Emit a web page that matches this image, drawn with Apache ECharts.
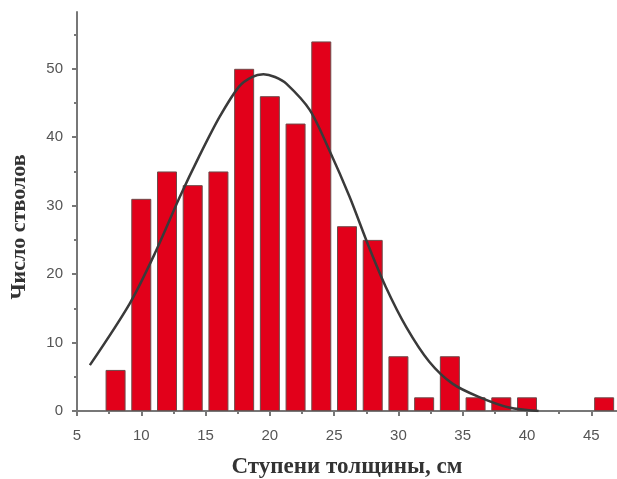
<!DOCTYPE html>
<html><head><meta charset="utf-8">
<script src="https://cdn.jsdelivr.net/npm/echarts@6/dist/echarts.min.js"></script>
<style>html,body{margin:0;padding:0;background:#fff}#c{width:617px;height:479px}</style>
</head><body><div id="c"></div>
<script>
// Histogram classes (stem diameter classes, cm) and counts
const classes = [8, 10, 12, 14, 16, 18, 20, 22, 24, 26, 28, 30, 32, 34, 36, 38, 40, 46];
const counts  = [6, 31, 35, 33, 35, 50, 46, 42, 54, 27, 25, 8, 2, 8, 2, 2, 2, 2];
// Fitted curve, points
const curveX = [6.0, 9.1, 11.05, 13.0, 14.5, 16.1, 17.6, 18.6, 19.5, 20.4, 21.3, 23.1, 24.6, 26.2, 27.7, 29.0, 30.6, 32.4, 34.2, 36.2, 38.6, 40.9];
const curveY = [6.7, 15.7, 23.0, 31.3, 37.2, 43.0, 47.4, 48.8, 49.2, 48.8, 47.8, 44.0, 38.2, 31.3, 24.0, 18.2, 12.3, 7.2, 4.0, 2.1, 0.5, 0.0];
const xMajorTicks = [5, 10, 15, 20, 25, 30, 35, 40, 45];
const xMinorTicks = [7.5, 12.5, 17.5, 22.5, 27.5, 32.5, 37.5, 42.5];
const yMajorTicks = [0, 10, 20, 30, 40, 50];
const yMinorTicks = [5, 15, 25, 35, 45, 55];
const xTitle = 'Ступени толщины, см';
const yTitle = 'Число стволов';

const X_MIN = 5, X_MAX = 47, Y_MIN = 0, Y_MAX = 58.3;
const axisCol = '#777';
const lblStyle = {color: '#555', fontFamily: 'Liberation Sans', fontSize: 15};
const titleStyle = {color: '#333', fontFamily: 'Liberation Serif', fontSize: 23, fontWeight: 'bold'};

const chart = echarts.init(document.getElementById('c'));
chart.setOption({
  animation: false,
  grid: {left: 77, right: 0, top: 12, bottom: 68, containLabel: false, outerBoundsMode: 'none'},
  graphic: [{
    type: 'text', x: 19, y: 227, rotation: Math.PI / 2,
    style: {text: yTitle, fill: titleStyle.color, font: 'bold 22px "Liberation Serif"', align: 'center', verticalAlign: 'middle'}
  }],
  xAxis: [{
    type: 'value', min: X_MIN, max: X_MAX, position: 'bottom',
    name: xTitle, nameLocation: 'middle', nameGap: 45, nameTextStyle: titleStyle,
    axisLine: {show: true, lineStyle: {color: axisCol, width: 2}},
    axisTick: {show: true, length: 5, lineStyle: {color: axisCol, width: 2}, customValues: xMajorTicks},
    axisLabel: Object.assign({margin: 17, customValues: xMajorTicks}, lblStyle),
    splitLine: {show: false}
  }, {
    type: 'value', min: X_MIN, max: X_MAX, position: 'bottom',
    axisLine: {show: false},
    axisTick: {show: true, length: 3, lineStyle: {color: axisCol, width: 2}, customValues: xMinorTicks},
    axisLabel: {show: false}, splitLine: {show: false}
  }],
  yAxis: [{
    type: 'value', min: Y_MIN, max: Y_MAX, position: 'left',
    axisLine: {show: true, lineStyle: {color: axisCol, width: 2}},
    axisTick: {show: true, length: 5, lineStyle: {color: axisCol, width: 2}, customValues: yMajorTicks},
    axisLabel: Object.assign({margin: 14, customValues: yMajorTicks}, lblStyle),
    splitLine: {show: false}
  }, {
    type: 'value', min: Y_MIN, max: Y_MAX, position: 'left',
    axisLine: {show: false},
    axisTick: {show: true, length: 3, lineStyle: {color: axisCol, width: 2}, customValues: yMinorTicks},
    axisLabel: {show: false}, splitLine: {show: false}
  }],
  series: [{
    type: 'bar', xAxisIndex: 0, yAxisIndex: 0,
    data: classes.map((c, i) => [c, counts[i]]),
    barWidth: 20,
    itemStyle: {color: '#e2001a', borderColor: '#6e4a4a', borderWidth: 1}
  }, {
    type: 'line', xAxisIndex: 0, yAxisIndex: 0,
    data: curveX.map((x, i) => [x, curveY[i]]),
    smooth: 0.3, showSymbol: false, symbol: 'none',
    lineStyle: {color: '#3a3a3a', width: 2.5}, z: 5
  }]
});
</script></body></html>
